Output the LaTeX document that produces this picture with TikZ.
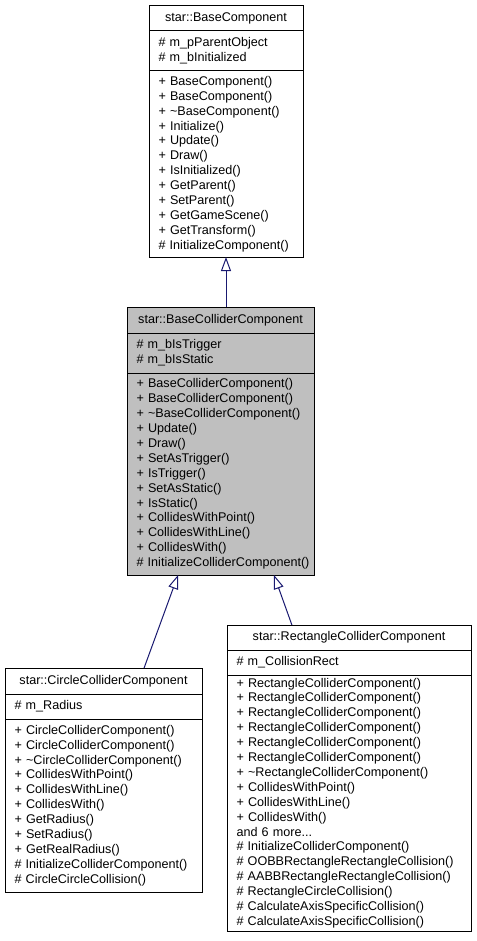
\documentclass[tikz,border=0pt]{standalone}
\usepackage{fontspec}
\setmainfont{Liberation Sans}
\usetikzlibrary{arrows.meta,positioning,calc}
\definecolor{edgeblue}{HTML}{191970}
\definecolor{basegray}{HTML}{BFBFBF}
\hyphenpenalty=10000\relax
\hbadness=10000\relax
\hfuzz=20pt\relax

\begin{document}
\begin{tikzpicture}[x=1pt, y=-1pt,
    cls/.style={draw, line width=1pt, inner xsep=9.5pt, inner ysep=0pt, outer sep=0pt, font=\fontsize{12.6}{14.9}\selectfont},
    clsname/.style={cls, align=center, anchor=north},
    clsbody/.style={cls, align=left},
    inherit/.style={draw=edgeblue, line width=1pt, -{Triangle[open, length=14pt, width=10pt]}}]
    \useasboundingbox (0,0) rectangle (476,941);

    % star::BaseComponent
    \node (base) [clsname, text width=135pt, minimum height=25.5pt] at (226,5.5) {star::BaseComponent};
    \node (baseattr) [clsbody, text width=135pt, minimum height=40pt, below=0pt of base] {\#~m\_pParentObject\\\#~m\_bInitialized};
    \node (baseops) [clsbody, text width=135pt, minimum height=186pt, below=0pt of baseattr] {+~BaseComponent()\\+~BaseComponent()\\+~\textasciitilde BaseComponent()\\+~Initialize()\\+~Update()\\+~Draw()\\+~IsInitialized()\\+~GetParent()\\+~SetParent()\\+~GetGameScene()\\+~GetTransform()\\\#~InitializeComponent()};

    % star::BaseColliderComponent
    \node (collider) [clsname, fill=basegray, text width=168pt, minimum height=26pt] at (220.5,307) {star::BaseColliderComponent};
    \node (colliderattr) [clsbody, fill=basegray, text width=168pt, minimum height=40pt, below=0pt of collider] {\#~m\_bIsTrigger\\\#~m\_bIsStatic};
    \node (colliderops) [clsbody, fill=basegray, text width=168pt, minimum height=202pt, below=0pt of colliderattr] {+~BaseColliderComponent()\\+~BaseColliderComponent()\\+~\textasciitilde BaseColliderComponent()\\+~Update()\\+~Draw()\\+~SetAsTrigger()\\+~IsTrigger()\\+~SetAsStatic()\\+~IsStatic()\\+~CollidesWithPoint()\\+~CollidesWithLine()\\+~CollidesWith()\\\#~InitializeColliderComponent()};

    % star::CircleColliderComponent
    \node (circle) [clsname, text width=178pt, minimum height=26pt] at (103.5,668) {star::CircleColliderComponent};
    \node (circleattr) [clsbody, text width=178pt, minimum height=25pt, below=0pt of circle] {\#~m\_Radius};
    \node (circleops) [clsbody, text width=178pt, minimum height=173pt, below=0pt of circleattr] {+~CircleColliderComponent()\\+~CircleColliderComponent()\\+~\textasciitilde CircleColliderComponent()\\+~CollidesWithPoint()\\+~CollidesWithLine()\\+~CollidesWith()\\+~GetRadius()\\+~SetRadius()\\+~GetRealRadius()\\\#~InitializeColliderComponent()\\\#~CircleCircleCollision()};

    % star::RectangleColliderComponent
    \node (rect) [clsname, text width=225pt, minimum height=25pt] at (349,625) {star::RectangleColliderComponent};
    \node (rectattr) [clsbody, text width=225pt, minimum height=25pt, below=0pt of rect] {\#~m\_CollisionRect};
    \node (rectops) [clsbody, text width=225pt, minimum height=256pt, below=0pt of rectattr] {+~RectangleColliderComponent()\\+~RectangleColliderComponent()\\+~RectangleColliderComponent()\\+~RectangleColliderComponent()\\+~RectangleColliderComponent()\\+~RectangleColliderComponent()\\+~\textasciitilde RectangleColliderComponent()\\+~CollidesWithPoint()\\+~CollidesWithLine()\\+~CollidesWith()\\and 6 more...\\\#~InitializeColliderComponent()\\\#~OOBBRectangleRectangleCollision()\\\#~AABBRectangleRectangleCollision()\\\#~RectangleCircleCollision()\\\#~CalculateAxisSpecificCollision()\\\#~CalculateAxisSpecificCollision()};

    \draw [inherit] ($(collider.north)+(5.5,0)$) -- (baseops.south);
    \draw [inherit] ($(circle.north west)!0.706!(circle.north east)$) -- ($(colliderops.south west)!0.273!(colliderops.south east)$);
    \draw [inherit] ($(rect.north west)!0.266!(rect.north east)$) -- ($(colliderops.south west)!0.786!(colliderops.south east)$);

\end{tikzpicture}
\end{document}
